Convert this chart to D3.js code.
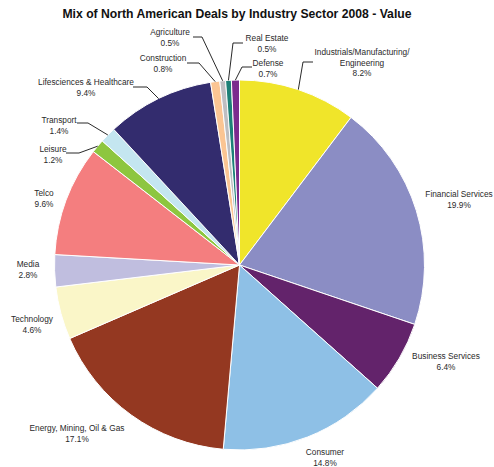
<!DOCTYPE html>
<html>
<head>
<meta charset="utf-8">
<script src="https://cdn.jsdelivr.net/npm/d3@7"></script>
<style>
  html, body { margin: 0; padding: 0; background: #fff; }
  svg { display: block; }
  text { font-family: "Liberation Sans", Arial, sans-serif; fill: #2a2a2a; }
</style>
</head>
<body>
<script>
// ---- data ----
const sectors = [
  "Industrials/Manufacturing/Engineering", "Financial Services", "Business Services",
  "Consumer", "Energy, Mining, Oil & Gas", "Technology", "Media", "Telco",
  "Leisure", "Transport", "Lifesciences & Healthcare", "Construction",
  "Agriculture", "Real Estate", "Defense"
];
// slice sizes as drawn (share of total, %)
const values = [10.3, 19.9, 6.4, 14.8, 17.1, 4.6, 2.8, 9.6, 1.2, 1.4, 9.4, 0.8, 0.5, 0.5, 0.7];
// percentages as printed on the labels
const pctLabels = ["8.2%", "19.9%", "6.4%", "14.8%", "17.1%", "4.6%", "2.8%", "9.6%",
                   "1.2%", "1.4%", "9.4%", "0.8%", "0.5%", "0.5%", "0.7%"];
const title = "Mix of North American Deals by Industry Sector 2008 - Value";

// ---- styles / layout ----
const colors = ["#f0e52a", "#8b8dc4", "#63236b", "#8ec0e6", "#943821", "#faf6c8",
                "#c0bedf", "#f47e7f", "#8dc63f", "#c4e6f0", "#332c6e", "#fbc593",
                "#bebec2", "#1c8077", "#7b2a8e"];
// label text lines, anchor (center x, first baseline y), optional leader elbow [x0, x1, y]
const labelLayout = [
  { lines: ["Industrials/Manufacturing/", "Engineering"], x: 362, y: 55, leader: [313, 303, 62] },
  { lines: ["Financial Services"], x: 459, y: 197 },
  { lines: ["Business Services"], x: 446, y: 359 },
  { lines: ["Consumer"], x: 325, y: 455 },
  { lines: ["Energy, Mining, Oil & Gas"], x: 77, y: 431 },
  { lines: ["Technology"], x: 32, y: 322 },
  { lines: ["Media"], x: 28, y: 267 },
  { lines: ["Telco"], x: 44, y: 196 },
  { lines: ["Leisure"], x: 53, y: 152, leader: [66, 79, 153] },
  { lines: ["Transport"], x: 59, y: 123, leader: [77, 88, 123] },
  { lines: ["Lifesciences & Healthcare"], x: 86, y: 85, leader: [133, 147, 87] },
  { lines: ["Construction"], x: 163, y: 61, leader: [187, 199, 63] },
  { lines: ["Agriculture"], x: 170, y: 35, leader: [193, 202, 37] },
  { lines: ["Real Estate"], x: 267, y: 41, leader: [243, 233, 43] },
  { lines: ["Defense"], x: 268, y: 66, leader: [252, 242, 67] }
];

const W = 494, H = 467;
const cx = 239.5, cy = 265, R = 185;
const fontSize = 8.3, lineH = 10.5;

const svg = d3.select("body").append("svg").attr("width", W).attr("height", H);

svg.append("text")
  .attr("x", 237).attr("y", 18)
  .attr("text-anchor", "middle")
  .style("font-weight", "bold")
  .style("font-size", "12.2px")
  .style("fill", "#111")
  .text(title);

const pie = d3.pie().sort(null).value(d => d)(values);
const arc = d3.arc().innerRadius(0).outerRadius(R);

const g = svg.append("g").attr("transform", `translate(${cx},${cy})`);
g.selectAll("path").data(pie).join("path")
  .attr("d", arc)
  .attr("fill", (d, i) => colors[i])
  .attr("stroke", "#fff")
  .attr("stroke-width", 1);

// leaders
labelLayout.forEach((L, i) => {
  if (!L.leader) return;
  const a = (pie[i].startAngle + pie[i].endAngle) / 2;
  const px = cx + R * Math.sin(a), py = cy - R * Math.cos(a);
  const [x0, x1, y] = L.leader;
  svg.append("path")
    .attr("d", d3.line()([[x0, y], [x1, y], [px, py]]))
    .attr("fill", "none")
    .attr("stroke", "#111")
    .attr("stroke-width", 0.9);
});

// labels
labelLayout.forEach((L, i) => {
  const t = svg.append("text")
    .attr("text-anchor", "middle")
    .style("font-size", fontSize + "px");
  const all = L.lines.concat([pctLabels[i]]);
  all.forEach((s, k) => {
    t.append("tspan").attr("x", L.x).attr("y", L.y + k * lineH).text(s);
  });
});
</script>
</body>
</html>
